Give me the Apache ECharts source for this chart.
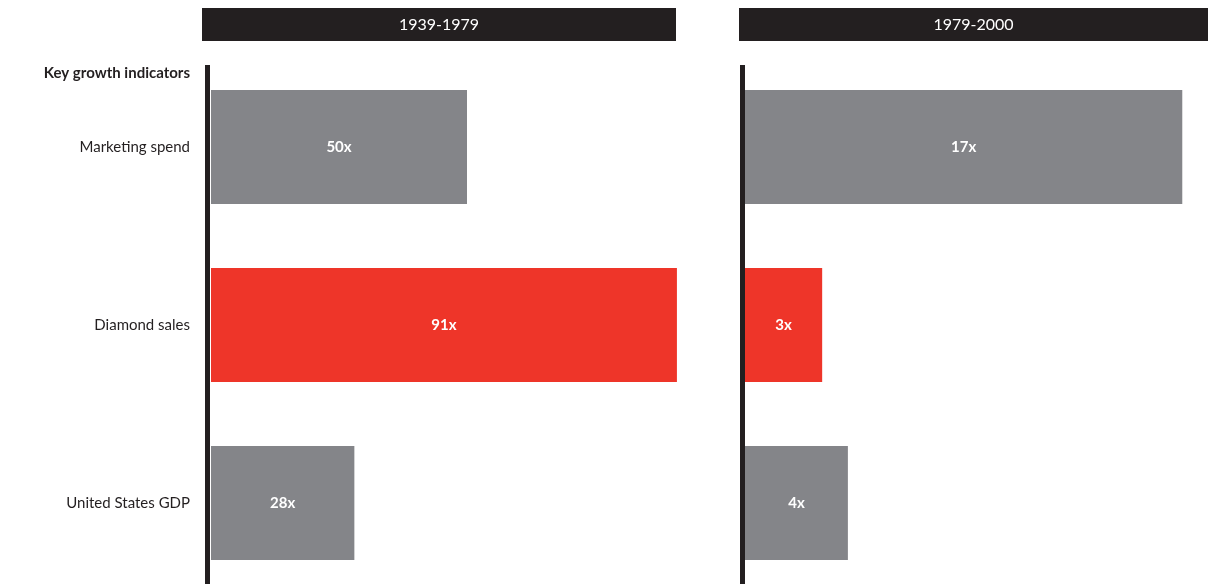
<!DOCTYPE html>
<html>
<head>
<meta charset="utf-8">
<script src="https://cdn.jsdelivr.net/npm/echarts@6/dist/echarts.min.js"></script>
<style>
  html, body { margin: 0; padding: 0; background: #fff; overflow: hidden; }
  #growth_charts { width: 1208px; height: 592px; }
</style>
</head>
<body>
<div id="growth_charts"></div>
<script>
const categories = ['Marketing spend', 'Diamond sales', 'United States GDP'];
const periods = ['1939-1979', '1979-2000'];
const growth1939 = [50, 91, 28];
const growth1979 = [17, 3, 4];

const grey = '#848589';
const red = '#ee3529';
const dark = '#231f20';
const font = 'Lato, "Open Sans", sans-serif';

// the last band runs a little past the bottom of the window, so the canvas is 8px taller
const myChart = echarts.init(document.getElementById('growth_charts'));

function barSeries(values, axisIndex) {
  return {
    type: 'bar',
    xAxisIndex: axisIndex,
    yAxisIndex: axisIndex,
    barWidth: 114,
    silent: true,
    data: values.map((v, i) => ({
      value: v,
      itemStyle: { color: i === 1 ? red : grey }
    })),
    label: {
      show: true,
      position: 'inside',
      formatter: '{c}x',
      color: '#fff',
      fontFamily: font,
      fontWeight: 'bold',
      fontSize: 15
    }
  }
}

function header(left, width, text) {
  return {
    type: 'group',
    left: left,
    top: 8,
    children: [
      { type: 'rect', shape: { x: 0, y: 0, width: width, height: 33 }, style: { fill: dark } },
      {
        type: 'text',
        x: width / 2,
        y: 17,
        style: {
          text: text, fill: '#fff', font: '16px ' + font,
          textAlign: 'center', textVerticalAlign: 'middle'
        }
      }
    ]
  }
}

const option = {
  animation: false,
  title: {
    text: 'Key growth indicators',
    right: 1018,
    top: 66,
    padding: 0,
    textStyle: { fontFamily: font, fontWeight: 'bold', fontSize: 15, color: dark }
  },
  grid: [
    { left: 211, top: 58, bottom: 0, width: 512 },
    { left: 745, top: 58, bottom: 0, right: 0 }
  ],
  xAxis: [
    { gridIndex: 0, type: 'value', min: 0, max: 100, show: false },
    { gridIndex: 1, type: 'value', min: 0, max: 18, show: false }
  ],
  yAxis: [
    {
      gridIndex: 0, type: 'category', inverse: true, data: categories,
      axisLine: { show: false }, axisTick: { show: false },
      axisLabel: { margin: 21, fontFamily: font, fontSize: 15, color: dark }
    },
    {
      gridIndex: 1, type: 'category', inverse: true, data: categories,
      axisLine: { show: false }, axisTick: { show: false }, axisLabel: { show: false }
    }
  ],
  series: [
    barSeries(growth1939, 0),
    barSeries(growth1979, 1)
  ],
  graphic: [
    header(202, 474, periods[0]),
    header(739, 469, periods[1]),
    { type: 'rect', left: 205, top: 65, shape: { width: 5, height: 527 }, style: { fill: dark } },
    { type: 'rect', left: 740, top: 65, shape: { width: 5, height: 527 }, style: { fill: dark } }
  ]
};
myChart.setOption(option);
</script>
</body>
</html>
